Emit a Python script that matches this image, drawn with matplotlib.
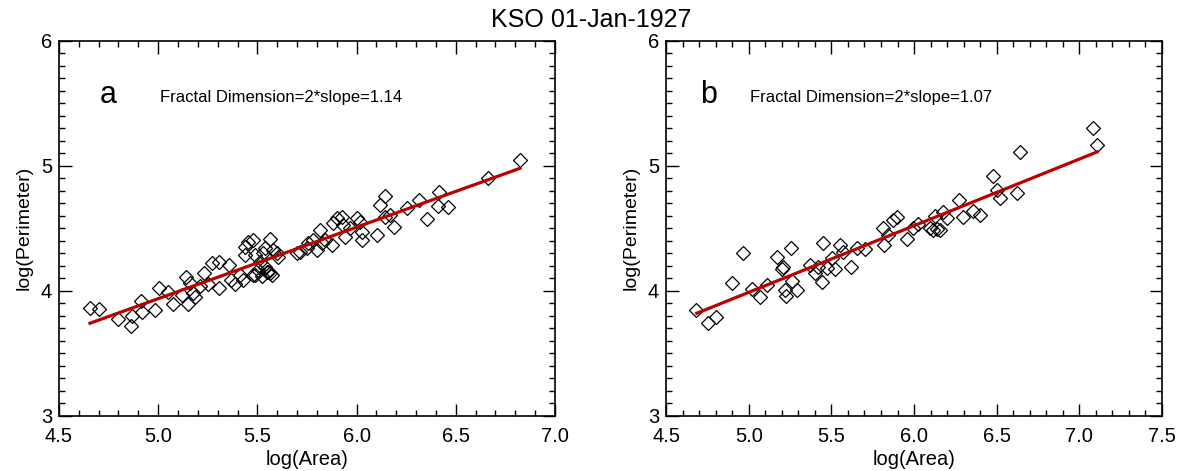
import numpy as np
import matplotlib
matplotlib.use("Agg")
import matplotlib.pyplot as plt
from matplotlib.ticker import MultipleLocator

plt.rcParams['font.family'] = ['Liberation Sans', 'DejaVu Sans']

# ---- panel a : log(Area), log(Perimeter)
area_a = [4.654, 4.703, 4.799, 4.863, 4.868, 4.913, 4.920, 4.984, 5.004, 5.051,
          5.076, 5.120, 5.140, 5.149, 5.160, 5.177, 5.186, 5.211, 5.231, 5.253,
          5.271, 5.306, 5.308, 5.357, 5.367, 5.387, 5.412, 5.438, 5.438, 5.454,
          5.479, 5.488, 5.479, 5.427, 5.530, 5.538, 5.547, 5.563, 5.563, 5.580,
          5.597, 5.605, 5.488, 5.553, 5.574, 5.698, 5.715, 5.748, 5.757, 5.782,
          5.799, 5.815, 5.824, 5.840, 5.874, 5.883, 5.900, 5.925, 5.933, 5.942,
          5.967, 6.000, 6.017, 6.026, 6.026, 6.101, 6.118, 6.143, 6.143, 6.168,
          6.190, 6.256, 6.316, 6.353, 6.417, 6.412, 6.459, 6.661, 6.824,
          5.538, 5.513, 5.503, 5.523]
perim_a = [3.864, 3.850, 3.772, 3.720, 3.796, 3.916, 3.828, 3.844, 4.024, 3.990,
           3.890, 3.964, 4.106, 3.890, 4.058, 3.978, 3.950, 4.038, 4.140, 4.052,
           4.220, 4.228, 4.024, 4.204, 4.084, 4.052, 4.124, 4.350, 4.284, 4.390,
           4.404, 4.284, 4.124, 4.084, 4.298, 4.190, 4.150, 4.410, 4.138, 4.324,
           4.298, 4.270, 4.124, 4.148, 4.124, 4.298, 4.310, 4.338, 4.378, 4.404,
           4.324, 4.484, 4.378, 4.404, 4.364, 4.538, 4.578, 4.590, 4.524, 4.430,
           4.498, 4.578, 4.550, 4.404, 4.470, 4.444, 4.684, 4.756, 4.590, 4.604,
           4.506, 4.658, 4.724, 4.572, 4.786, 4.678, 4.666, 4.898, 5.044,
           4.340, 4.228, 4.164, 4.116]
fit_a_x = [4.656, 6.824]
fit_a_y = [3.738, 4.978]
fd_a = 1.14

# ---- panel b
area_b = [4.680, 4.756, 4.802, 4.897, 4.968, 5.018, 5.069, 5.113, 5.173, 5.210,
          5.200, 5.220, 5.226, 5.256, 5.260, 5.294, 5.371, 5.401, 5.442, 5.448,
          5.421, 5.472, 5.502, 5.522, 5.553, 5.573, 5.619, 5.654, 5.704, 5.815,
          5.819, 5.845, 5.875, 5.896, 5.956, 5.996, 6.026, 6.097, 6.127, 6.113,
          6.138, 6.158, 6.178, 6.198, 6.274, 6.295, 6.355, 6.400, 6.476, 6.499,
          6.521, 6.620, 6.643, 7.085, 7.106]
perim_b = [3.844, 3.742, 3.790, 4.062, 4.298, 4.010, 3.950, 4.044, 4.266, 4.190,
           4.170, 4.004, 3.956, 4.338, 4.078, 4.004, 4.204, 4.138, 4.070, 4.382,
           4.190, 4.178, 4.258, 4.170, 4.364, 4.310, 4.186, 4.338, 4.332, 4.498,
           4.364, 4.444, 4.564, 4.586, 4.410, 4.498, 4.532, 4.498, 4.596, 4.484,
           4.490, 4.484, 4.630, 4.578, 4.724, 4.588, 4.638, 4.604, 4.920, 4.804,
           4.744, 4.778, 5.106, 5.298, 5.164]
fit_b_x = [4.686, 7.106]
fit_b_y = [3.818, 5.108]
fd_b = 1.07

fig = plt.figure(figsize=(11.82, 4.71), dpi=100)
ax1 = fig.add_axes([0.0499, 0.1178, 0.4196, 0.7962])
ax2 = fig.add_axes([0.5635, 0.1178, 0.4196, 0.7962])

panels = [(ax1, area_a, perim_a, fit_a_x, fit_a_y, fd_a, 'a', (4.5, 7.0), 0.099, 0.204),
          (ax2, area_b, perim_b, fit_b_x, fit_b_y, fd_b, 'b', (4.5, 7.5), 0.085, 0.169)]

for ax, xs, ys, fx, fy, fd, lab, xl, lx, tx in panels:
    ax.plot(xs, ys, 'D', ms=7.3, mfc='none', mec='black', mew=0.9)
    ax.plot(fx, fy, '-', color='#bb0000', lw=2.3)
    ax.set_xlim(*xl)
    ax.set_ylim(3, 6)
    ax.xaxis.set_major_locator(MultipleLocator(0.5))
    ax.xaxis.set_minor_locator(MultipleLocator(0.1))
    ax.yaxis.set_major_locator(MultipleLocator(1))
    ax.yaxis.set_minor_locator(MultipleLocator(0.1))
    ax.xaxis.set_major_formatter(matplotlib.ticker.FormatStrFormatter('%.1f'))
    ax.tick_params(which='both', direction='in', top=True, right=True,
                   labelsize=14.5, width=1)
    ax.tick_params(which='major', length=9)
    ax.tick_params(axis='x', which='major', pad=8)
    ax.tick_params(axis='y', which='major', pad=5)
    ax.tick_params(which='minor', length=4)
    for s in ax.spines.values():
        s.set_linewidth(1.2)
    ax.set_xlabel('log(Area)', fontsize=14.5, labelpad=3)
    ax.set_ylabel('log(Perimeter)', fontsize=14, labelpad=6)
    ax.text(lx, 0.855, lab, transform=ax.transAxes, fontsize=22,
            ha='center', va='center')
    ax.text(tx, 0.847, 'Fractal Dimension=2*slope=%.2f' % fd,
            transform=ax.transAxes, fontsize=12, ha='left', va='center')

fig.text(0.5, 0.958, 'KSO 01-Jan-1927', fontsize=18, ha='center', va='center')

fig.savefig('out.png', dpi=100)
